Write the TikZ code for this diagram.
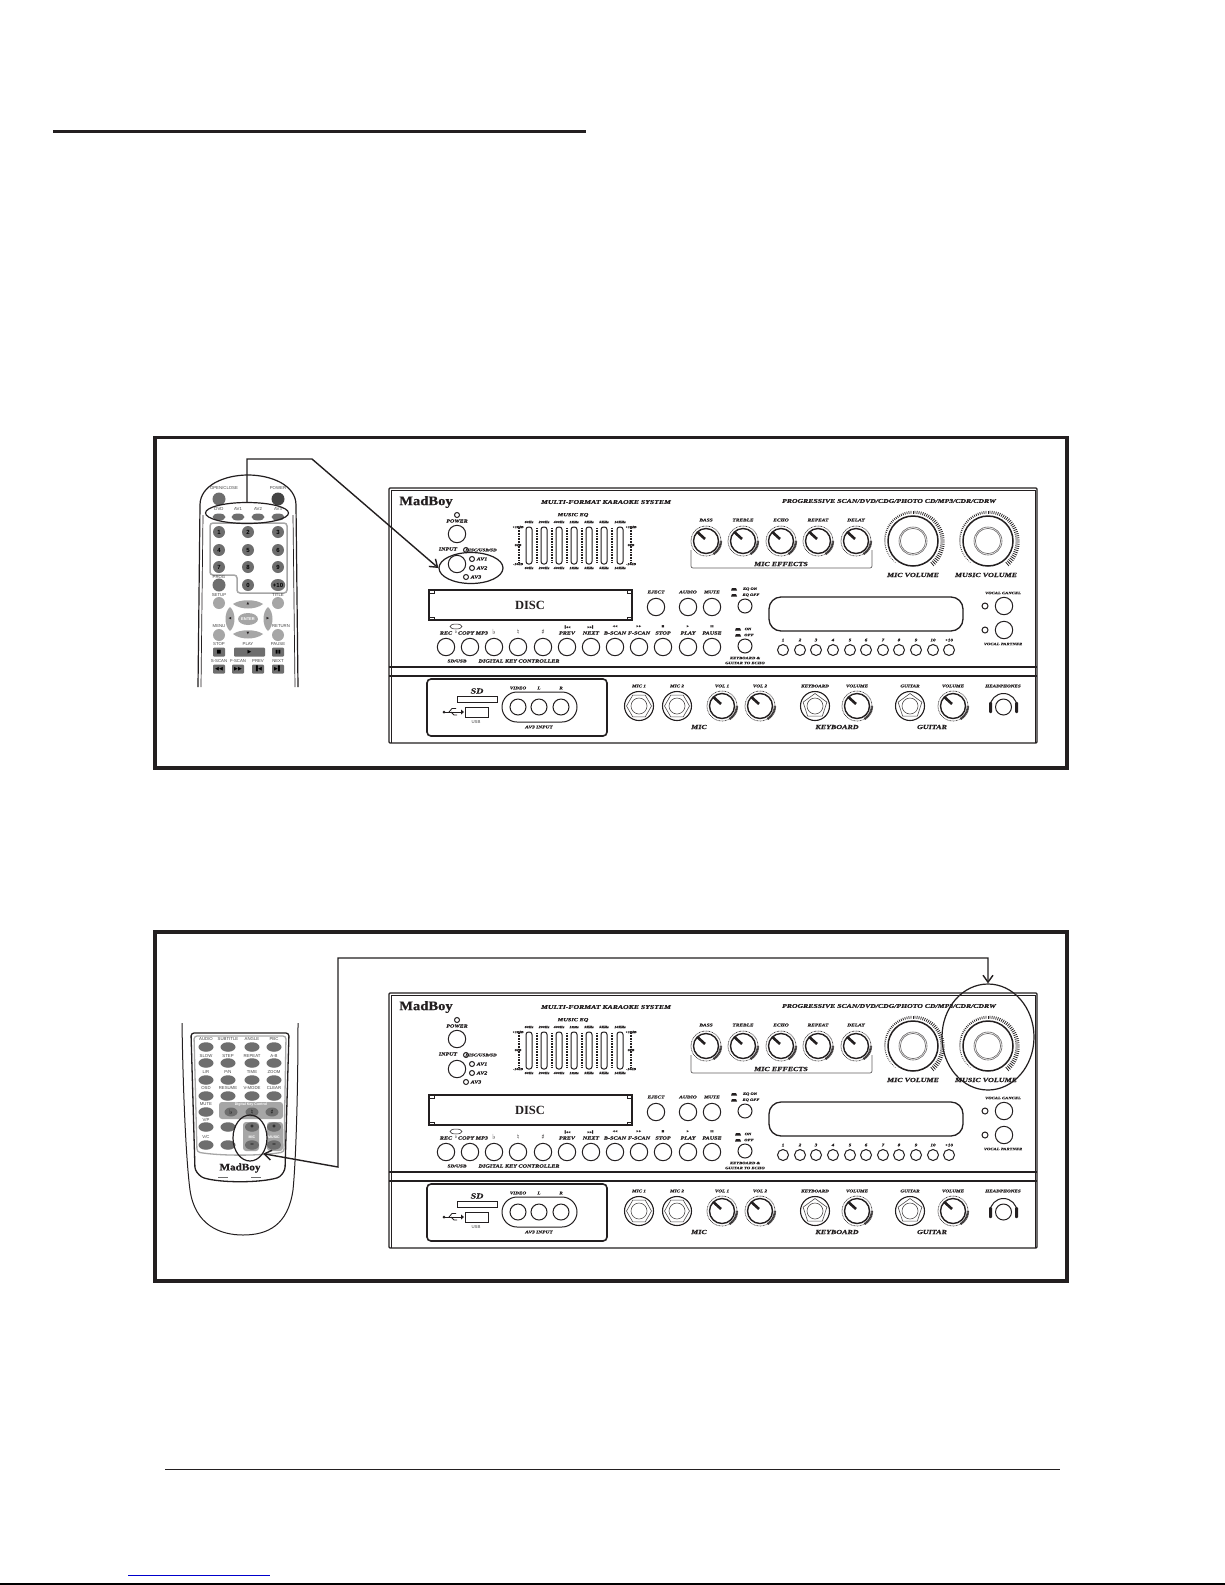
\documentclass[tikz,border=0pt]{standalone}
\usepackage{fontspec}
\usetikzlibrary{arrows.meta,shapes.geometric}
\setmainfont{Liberation Serif}
\newfontfamily\pf[FakeStretch=1.3,FakeBold=0.5]{Liberation Serif}
\newfontfamily\rf{Liberation Sans}
\newfontfamily\lf[FakeStretch=1.12,FakeBold=0.8]{Liberation Serif}
\newfontfamily\sy{DejaVu Sans}
\definecolor{ink}{HTML}{231F20}
\definecolor{bmid}{HTML}{6E6E6E}
\definecolor{bdark}{HTML}{444444}
\definecolor{blite}{HTML}{A6A6A6}
\newcounter{tn}
% panel text
\newcommand{\pl}[4]{\stepcounter{tn}\pgfmathsetmacro{\fsz}{#1*1.1}\node[inner sep=0pt,text=ink] (t\arabic{tn}) at (#2,#3) {\fontsize{\fsz}{\fsz}\pf\bfseries\itshape #4};}
% remote text
\newcommand{\rl}[3]{\stepcounter{tn}\node[inner sep=0pt,text=bdark] (t\arabic{tn}) at (#1,#2) {\fontsize{4.3}{4.3}\rf #3};}
% symbol text
\newcommand{\symb}[4]{\stepcounter{tn}\node[inner sep=0pt,text=ink] (t\arabic{tn}) at (#2,#3) {\fontsize{#1}{#1}\sy #4};}
% round button
\newcommand{\btn}[3]{\stepcounter{tn}\node[circle,draw=ink,line width=1pt,minimum size=#3pt,inner sep=0pt] (t\arabic{tn}) at (#1,#2) {};}
% remote button: fill, x, y, rx, ry, text
\newcommand{\rb}[6]{\stepcounter{tn}\node[ellipse,fill=#1,minimum width=#4pt,minimum height=#5pt,inner sep=0pt,text=black] (t\arabic{tn}) at (#2,#3) {\fontsize{6}{6}\rf\bfseries #6};}
\newcommand{\rr}[5]{\stepcounter{tn}\node[rectangle,rounded corners=1pt,fill=bmid,minimum width=#3pt,minimum height=#4pt,inner sep=0pt,text=black] (t\arabic{tn}) at (#1,#2) {\fontsize{5}{5}\sy #5};}
\newcommand{\knob}[2]{\begin{scope}[shift={(#1,#2)}]
\draw[ink,line width=1.4pt] (0,0) circle (12.5pt);
\draw[ink,line width=.6pt,dash pattern=on .8pt off .7pt] (0,0) circle (15pt);
\draw[ink,line width=2.4pt,dash pattern=on .5pt off .5pt] (-60:15pt) arc[start angle=-60,end angle=0,radius=15pt];
\draw[ink,line width=2.6pt] (-8.7pt,9pt) -- (-1pt,2pt);
\end{scope}}
\newcommand{\bigknob}[2]{\begin{scope}[shift={(#1,#2)}]
\draw[ink,line width=1.5pt] (0,0) circle (25pt);
\draw[ink!70,line width=.6pt] (0,0) circle (14pt);
\draw[ink!70,line width=.6pt] (0,0) circle (12.6pt);
\foreach \a in {-50,-46,...,230}{\pgfmathsetmacro{\len}{27.5+0.5+(230-\a)/280*4.5}\draw[ink,line width=.75pt] (\a:27.5pt) -- (\a:\len pt);}
\end{scope}}
\newcommand{\jack}[3]{\stepcounter{tn}\begin{scope}[shift={(#1,#2)}]
\draw[ink,line width=1.1pt] (0,0) circle (14.5pt);
\node[regular polygon,regular polygon sides=#3,draw=ink!80,line width=.6pt,minimum size=25pt,inner sep=0pt] (t\arabic{tn}) at (0,0) {};
\draw[ink!80,line width=.6pt] (0,0) circle (8pt);
\end{scope}}
\newcommand{\panelup}[1]{%
\draw[ink,line width=1.2pt,rounded corners=1pt] (389,488) rectangle (1037,743);
\draw[ink,line width=1pt] (391,490) -- (1035,490) -- (1035,743);
\draw[ink,line width=1pt] (391,490) -- (391,743);
\draw[ink,line width=1.2pt] (389,667) -- (1037,667);
\draw[ink,line width=1.4pt] (389,676) -- (1037,676);
\stepcounter{tn}\node[inner sep=0pt,text=ink] (t\arabic{tn}) at (426,502) {\fontsize{13}{13}\lf\bfseries MadBoy};
\pl{5.4}{606}{502}{MULTI-FORMAT KARAOKE SYSTEM}
\pl{5.4}{889}{501}{PROGRESSIVE SCAN/DVD/CDG/PHOTO CD/MP3/CDR/CDRW}
\btn{457}{515}{5}
\pl{4.2}{457}{521}{POWER}
\btn{457}{534}{17.4}
\pl{4.2}{448}{549}{INPUT}
\btn{457}{564}{17.4}
\btn{466}{550}{5}\pl{3.6}{481}{550}{DISC/USB/SD}
\btn{472}{559}{5}\pl{4.2}{482}{559}{AV1}
\btn{472}{568}{5}\pl{4.2}{482}{568}{AV2}
\btn{466}{577}{5}\pl{4.2}{476}{577}{AV3}
\pl{4.4}{573}{515}{MUSIC EQ}
\foreach \x/\f in {529/60Hz,544/200Hz,559/400Hz,574/1KHz,589/3KHz,604/5KHz,620/16KHz}{
 \pl{2.8}{\x}{522}{\f}
 \pl{2.8}{\x}{568}{\f}
 \stepcounter{tn}\node[rectangle,rounded corners=2.5pt,draw=ink,line width=1pt,minimum width=6pt,minimum height=37pt,inner sep=0pt] (t\arabic{tn}) at (\x,545.5) {};
}
\foreach \x in {519,537,552,567,582,597,612,631}{\draw[ink,line width=1.1pt,dash pattern=on .7pt off .9pt] (\x,528) -- (\x,563);}
\foreach \x in {518,631}{\pl{2.8}{\x}{527}{+10dB}\pl{2.8}{\x}{545}{0dB}\pl{2.8}{\x}{564}{-10dB}}
\draw[ink,line width=1.2pt] (429,590) rectangle (632,620);
\foreach \x/\y in {429/590,627/590,429/617,627/617}{\draw[ink,line width=.6pt] (\x,\y) rectangle ++(5,3);}
\stepcounter{tn}\node[inner sep=0pt,text=ink] (t\arabic{tn}) at (530,605) {\fontsize{12.5}{12.5}\selectfont\bfseries DISC};
\foreach \x in {446,470,494,518,543,567,591,615,639,663,688,712}{\btn{\x}{647}{17.4}}
\pl{4.3}{446}{633}{REC}\pl{4.3}{473}{633}{COPY MP3}
\symb{7}{494}{632}{♭}\symb{7}{518}{632}{♮}\symb{7}{543}{632}{♯}
\pl{4.3}{567}{633}{PREV}\pl{4.3}{591}{633}{NEXT}\pl{4.3}{615}{633}{B-SCAN}\pl{4.3}{639}{633}{F-SCAN}\pl{4.3}{663}{633}{STOP}\pl{4.3}{688}{633}{PLAY}\pl{4.3}{712}{633}{PAUSE}
\draw[ink,line width=.5pt] (456,626.5) ellipse (6pt and 2.5pt);
\symb{3.2}{456}{632.5}{0}
\symb{3}{567}{627}{▐◀◀}\symb{3}{591}{627}{▶▶▌}\symb{3}{615}{627}{◀◀}\symb{3}{639}{627}{▶▶}\symb{3}{663}{627}{■}\symb{3}{688}{627}{▶}\symb{3}{712}{627}{▮▮}
\pl{3.8}{457}{661}{SD/USB}\pl{4.3}{519}{661}{DIGITAL KEY CONTROLLER}
\foreach \x/\t in {706/BASS,743/TREBLE,781/ECHO,818/REPEAT,856/DELAY}{\knob{\x}{541}\pl{3.8}{\x}{520}{\t}}
\draw[ink!70,line width=.7pt,rounded corners=2pt] (691,550) -- (691,568) -- (872,568) -- (872,550);
\pl{5.6}{781}{564}{MIC EFFECTS}
\bigknob{913}{541}\bigknob{988}{541}
\pl{5.6}{913}{575}{MIC VOLUME}\pl{5.6}{986}{575}{MUSIC VOLUME}
\btn{656}{607}{17.4}\btn{688}{607}{17.4}\btn{712}{607}{17.4}
\pl{3.8}{656}{592}{EJECT}\pl{3.8}{688}{592}{AUDIO}\pl{3.8}{712}{592}{MUTE}
\btn{745}{606}{14}\btn{745}{646}{14}
\fill[ink] (731,590.5) -- (732,588) -- (736,588) -- (737,590.5) -- cycle;
\fill[ink] (731,596.5) -- (732,594) -- (736,594) -- (737,596.5) -- cycle;
\fill[ink] (735,630.5) -- (736,628) -- (740,628) -- (741,630.5) -- cycle;
\fill[ink] (735,636.5) -- (736,634) -- (740,634) -- (741,636.5) -- cycle;
\pl{3.2}{750}{589}{EQ ON}\pl{3.2}{751}{595}{EQ OFF}
\pl{3.2}{748}{629}{ON}\pl{3.2}{749}{635}{OFF}
\pl{3.3}{745}{658}{KEYBOARD \&}\pl{3.3}{745}{663}{GUITAR TO ECHO}
\stepcounter{tn}\node[rectangle,rounded corners=12pt,draw=ink,line width=1.3pt,minimum width=194pt,minimum height=34pt,inner sep=0pt] (t\arabic{tn}) at (866,614) {};
\foreach \x/\t in {783/1,800/2,816/3,833/4,850/5,866/6,883/7,899/8,916/9,933/10,949/+10}{\btn{\x}{650}{11}\pl{3.6}{\x}{640}{\t}}
\btn{985}{606}{6}\btn{1004}{606}{17.4}\btn{985}{630}{6}\btn{1004}{630}{17.4}
\pl{3.3}{1003}{593}{VOCAL CANCEL}\pl{3.3}{1003}{644}{VOCAL PARTNER}
}
\newcommand{\paneldown}[1]{%
\draw[ink,line width=1.6pt,rounded corners=4pt] (427,679) rectangle (607,736);
\pl{7}{477}{691}{SD}
\draw[ink,line width=.8pt] (457,696) rectangle (497,702);
\draw[ink,line width=.8pt] (465,707) rectangle (488,717);
\fill[ink] (444,712) circle (1.5pt);
\draw[ink,line width=.8pt] (444,712) -- (461,712);
\fill[ink] (461,709.5) -- (464,712) -- (461,714.5) -- cycle;
\draw[ink,line width=.8pt] (449,712) -- (452,708.5) -- (456,708.5);
\draw[ink,line width=.8pt] (451,712) -- (454,715) -- (457,715);
\rl{476}{722}{USB}
\stepcounter{tn}\node[rectangle,rounded corners=15pt,draw=ink,line width=1pt,minimum width=75pt,minimum height=30pt,inner sep=0pt] (t\arabic{tn}) at (539.5,707) {};
\foreach \x/\t in {518/VIDEO,539/L,561/R}{\btn{\x}{707}{16}\pl{3.6}{\x}{688}{\t}}
\pl{3.8}{539}{727}{AV3 INPUT}
\jack{639}{706}{6}\jack{677}{706}{6}\jack{815}{706}{5}\jack{910}{706}{5}
\knob{722}{706}\knob{760}{706}\knob{857}{706}\knob{953}{706}
\pl{3.6}{639}{686}{MIC 1}\pl{3.6}{677}{686}{MIC 2}\pl{3.6}{722}{686}{VOL 1}\pl{3.6}{760}{686}{VOL 2}
\pl{3.6}{815}{686}{KEYBOARD}\pl{3.6}{857}{686}{VOLUME}\pl{3.6}{910}{686}{GUITAR}\pl{3.6}{953}{686}{VOLUME}\pl{3.6}{1003}{686}{HEADPHONES}
\pl{5.6}{699}{727}{MIC}\pl{5.6}{837}{727}{KEYBOARD}\pl{5.6}{932}{727}{GUITAR}
\draw[ink,line width=1pt] (990,707) arc[start angle=180,end angle=0,radius=13.5pt];
\btn{1003.5}{707}{16}
\fill[ink,rounded corners=1pt] (989,702) rectangle (992,713);
\fill[ink,rounded corners=1pt] (1015,702) rectangle (1018,713);
}
\begin{document}
\begin{tikzpicture}[x=1pt,y=-1pt,line cap=butt]
\useasboundingbox[fill=white] (0,0) rectangle (1225,1585);
% page rules
\coordinate (ra) at (53,131);\coordinate (rb) at (586,131);
\draw[ink,line width=3pt] (ra) -- (rb);
\coordinate (rc) at (165,1469);\coordinate (rd) at (1060,1469);
\draw[ink,line width=1pt] (rc) -- (rd);
\coordinate (re) at (128,1575);\coordinate (rf) at (270,1575);
\draw[blue!80!black,line width=1pt] (re) -- (rf);
\coordinate (rg) at (0,1584);\coordinate (rh) at (1225,1584);
\draw[black,line width=1.2pt] (rg) -- (rh);
% frames
\draw[ink,line width=3.6pt] (155,437.5) rectangle (1067,768);
\draw[ink,line width=3.6pt] (155,932) rectangle (1067,1281);
% panels
\panelup{a}\paneldown{a}
\node[ellipse,draw=ink,line width=1.2pt,minimum width=64pt,minimum height=31pt,inner sep=0pt] (asel) at (471,568) {};
\begin{scope}[yshift=-505pt]
\panelup{b}\paneldown{b}
\end{scope}
\node[ellipse,draw=ink,line width=1.2pt,minimum width=92pt,minimum height=106pt,inner sep=0pt] (bsel) at (988,1037) {};
% remote 1
\draw[ink,line width=1.2pt] (198,687) -- (200,505) .. controls (200,485) and (225,475) .. (248,475) .. controls (271,475) and (296,485) .. (296,505) -- (298,687);
\draw[ink,line width=.7pt] (201,687) -- (203,515);
\draw[ink,line width=.7pt] (295,687) -- (293,515);
\rl{224}{488}{OPEN/CLOSE}\rl{278}{488}{POWER}
\rb{bmid}{219}{499}{13}{13}{}\rb{bdark}{278}{499}{13}{13}{}
\foreach \x/\t in {219/DVD,238/AV1,258/AV2,278/AV3}{\rl{\x}{509}{\t}\rb{bmid}{\x}{517}{13}{7}{}}
\draw[blite,line width=1.5pt,rounded corners=3pt] (210,523) -- (287,523) -- (287,593) -- (237,593) -- (237,575) -- (210,575) -- cycle;
\foreach \x/\y/\t in {219/532/1,248/532/2,278/532/3,219/550/4,248/550/5,278/550/6,219/567/7,248/567/8,278/567/9,248/585/0,278/585/+10}{\rb{bmid}{\x}{\y}{12}{12}{\t}}
\rb{bmid}{219}{585}{13}{13}{}\rl{219}{577}{PROG}
\rl{219}{595}{SETUP}\rl{278}{595}{TITLE}\rl{219}{626}{MENU}\rl{281}{626}{RETURN}
\rb{blite}{219}{603}{12}{12}{}\rb{blite}{278}{603}{12}{12}{}\rb{blite}{219}{635}{12}{12}{}\rb{blite}{278}{635}{12}{12}{}
\fill[blite] (233,604) .. controls (240,599) and (256,599) .. (263,604) .. controls (256,610) and (240,610) .. (233,604) -- cycle;
\fill[blite] (233,634) .. controls (240,629) and (256,629) .. (263,634) .. controls (256,640) and (240,640) .. (233,634) -- cycle;
\fill[blite] (230,607) .. controls (224,612) and (224,626) .. (230,631) .. controls (236,626) and (236,612) .. (230,607) -- cycle;
\fill[blite] (268,607) .. controls (262,612) and (262,626) .. (268,631) .. controls (274,626) and (274,612) .. (268,607) -- cycle;
\symb{3.5}{248}{604}{▲}\symb{3.5}{248}{634}{▼}\symb{3.5}{230}{619}{◀}\symb{3.5}{268}{619}{▶}
\stepcounter{tn}\node[ellipse,fill=blite,minimum width=20pt,minimum height=12pt,inner sep=0pt,text=white] (t\arabic{tn}) at (248,619) {\fontsize{4}{4}\rf\bfseries ENTER};
\rl{219}{644}{STOP}\rl{248}{644}{PLAY}\rl{278}{644}{PAUSE}
\rr{219}{652}{12}{9}{■}\rr{249.5}{652}{31}{9}{▶}\rr{278}{652}{12}{9}{▮▮}
\foreach \x/\t/\s in {219/S-SCAN/◀◀,238/F-SCAN/▶▶,258/PREV/▐◀,278/NEXT/▶▌}{\rl{\x}{661}{\t}\rr{\x}{669}{12}{9}{\s}}
\node[ellipse,draw=ink,line width=1.2pt,minimum width=83pt,minimum height=21pt,inner sep=0pt] (rsela) at (247,513) {};
% connector 1
\coordinate (c1a) at (247,459);\coordinate (c1b) at (312,459);
\draw[ink,line width=1.4pt,-{Straight Barb[length=7pt,width=10pt]}] (rsela.north) -- (c1a) -- (c1b) -- (asel.west);
% remote 2
\draw[ink,line width=1pt] (182,1023) .. controls (183,1090) and (186,1160) .. (190,1190) .. controls (195,1225) and (220,1235) .. (243,1235) .. controls (268,1235) and (288,1225) .. (293,1190) .. controls (296,1160) and (298,1090) .. (298,1023);
\draw[blite,line width=1.3pt,rounded corners=3pt] (194,1036) -- (286,1036) -- (284,1152) .. controls (260,1156) and (220,1156) .. (197,1152) -- cycle;
\draw[ink,line width=1.3pt,rounded corners=3pt] (191,1033) -- (289,1033) -- (285,1170) -- (280,1177) .. controls (260,1183) and (220,1183) .. (201,1177) -- (195,1170) -- cycle;
\foreach \x/\t in {206/AUDIO,228/SUBTITLE,252/ANGLE,274/PBC}{\rl{\x}{1039}{\t}\rb{bmid}{\x}{1047}{15}{9.5}{}}
\foreach \x/\t in {206/SLOW,228/STEP,252/REPEAT,274/A-B}{\rl{\x}{1056}{\t}\rb{bmid}{\x}{1063}{15}{9.5}{}}
\foreach \x/\t in {206/{L/R},228/{P/N},252/TIME,274/ZOOM}{\rl{\x}{1072}{\t}\rb{bmid}{\x}{1080}{15}{9.5}{}}
\foreach \x/\t in {206/OSD,228/RESUME,252/V-MODE,274/CLEAR}{\rl{\x}{1088}{\t}\rb{bmid}{\x}{1096}{15}{9.5}{}}
\rl{206}{1104}{MUTE}\rb{bmid}{206}{1112}{15}{9.5}{}
\rl{206}{1120}{V/P}\rb{bmid}{206}{1127}{15}{9.5}{}\rb{bmid}{228}{1127}{15}{9.5}{}
\rl{206}{1137}{V/C}\rb{bmid}{206}{1145}{15}{9.5}{}\rb{bmid}{228}{1145}{15}{9.5}{}
\fill[blite,rounded corners=3pt] (219,1102) rectangle (283,1119);
\stepcounter{tn}\node[inner sep=0pt,text=white] (t\arabic{tn}) at (251,1104.5) {\fontsize{3.6}{3.6}\rf\bfseries Digital Key Control};
\foreach \x/\t in {231/♭,252/♮,272/♯}{\stepcounter{tn}\node[ellipse,fill=bmid,minimum width=13pt,minimum height=9pt,inner sep=0pt] (t\arabic{tn}) at (\x,1112) {\fontsize{6.5}{6.5}\sy\t};}
\fill[blite,rounded corners=3pt] (243,1122) rectangle (259,1151);
\fill[blite,rounded corners=3pt] (267,1122) rectangle (283,1151);
\foreach \x/\t in {252/MIC,274/MUSIC}{
 \rb{bmid}{\x}{1127}{14}{9.5}{+}\rb{bmid}{\x}{1145}{14}{9.5}{−}
 \stepcounter{tn}\node[inner sep=0pt,text=white] (t\arabic{tn}) at (\x,1137) {\fontsize{3.6}{3.6}\rf\bfseries \t};}
\stepcounter{tn}\node[inner sep=0pt,text=ink] (t\arabic{tn}) at (240,1168) {\fontsize{10}{10}\lf\bfseries MadBoy};
\draw[bmid,line width=.6pt] (218,1177) -- (228,1177);
\draw[bmid,line width=.6pt] (251,1177) -- (261,1177);
\node[ellipse,draw=ink,line width=1.2pt,minimum width=34pt,minimum height=46pt,inner sep=0pt] (rselb) at (250,1138) {};
% connector 2
\coordinate (c2a) at (338,1167);\coordinate (c2b) at (338,958);\coordinate (c2c) at (988,958);
\draw[ink,line width=1.4pt,{Straight Barb[length=7pt,width=10pt]}-{Straight Barb[length=7pt,width=10pt]}] (rselb.-50) -- (c2a) -- (c2b) -- (c2c) -- (bsel.north);
\end{tikzpicture}
\end{document}
